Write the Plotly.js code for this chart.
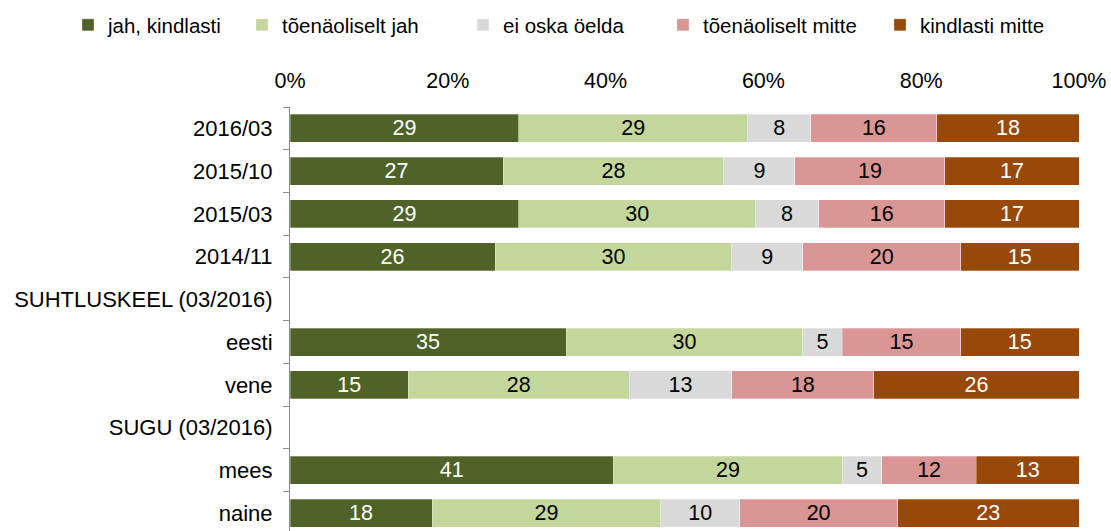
<!DOCTYPE html>
<html>
<head>
<meta charset="utf-8">
<script src="https://cdn.plot.ly/plotly-3.0.1.min.js"></script>
<style>html,body{margin:0;padding:0;background:#fff;}#chart{width:1111px;height:531px;}</style>
</head>
<body>
<div id="chart"></div>
<script>
var categories = ["2016/03","2015/10","2015/03","2014/11","SUHTLUSKEEL (03/2016)","eesti","vene","SUGU (03/2016)","mees","naine"];
var seriesNames = ["jah, kindlasti","tõenäoliselt jah","ei oska öelda","tõenäoliselt mitte","kindlasti mitte"];
var jahKindlasti      = [29,27,29,26,null,35,15,null,41,18];
var toenaoliseltJah   = [29,28,30,30,null,30,28,null,29,29];
var eiOskaOelda       = [8,9,8,9,null,5,13,null,5,10];
var toenaoliseltMitte = [16,19,16,20,null,15,18,null,12,20];
var kindlastiMitte    = [18,17,17,15,null,15,26,null,13,23];
var xTickVals = [0,20,40,60,80,100];
var xTickText = ["0%","20%","40%","60%","80%","100%"];

var seriesValues = [jahKindlasti,toenaoliseltJah,eiOskaOelda,toenaoliseltMitte,kindlastiMitte];
var colors = ["#4F6228","#C3D69B","#D9D9D9","#D99694","#984807"];
var textColors = ["#ffffff","#000000","#000000","#000000","#ffffff"];
var legendIds = ["legend","legend2","legend3","legend4","legend5"];
var legendX = [68,242,463,663,880];

var font = "Liberation Sans, Arial, sans-serif";
var traces = seriesValues.map(function(vals,i){
  return {
    type:"bar", orientation:"h", name:seriesNames[i],
    y:categories, x:vals,
    text:vals.map(function(v){return v===null?"":String(v);}),
    texttemplate:"%{text}", textposition:"inside", insidetextanchor:"middle",
    textangle:0, constraintext:"none",
    marker:{color:colors[i], line:{color:"rgba(255,255,255,0.6)", width:0.5}},
    textfont:{family:font, size:21.5, color:textColors[i]},
    hoverinfo:"skip", legend:legendIds[i]
  };
});

var plotW = 1111-290-32, plotH = 531-107;
var layout = {
  width:1111, height:531,
  margin:{l:290, r:32, t:107, b:0, pad:0},
  barmode:"stack", bargap:0.345,
  paper_bgcolor:"#fff", plot_bgcolor:"#fff",
  font:{family:font, size:21, color:"#000"},
  xaxis:{side:"top", range:[0,100], tickmode:"array", tickvals:xTickVals, ticktext:xTickText,
         showgrid:false, zeroline:false, showline:false, ticks:"",
         ticklabelstandoff:14, tickfont:{family:font, size:21.5, color:"#000"}, fixedrange:true},
  yaxis:{type:"category", range:[9.42,-0.5], showgrid:false, zeroline:false,
         showline:true, linecolor:"#8c8c8c", linewidth:1,
         ticks:"outside", tickson:"boundaries", ticklen:6, tickcolor:"#8c8c8c", tickwidth:1,
         ticklabelstandoff:12, tickfont:{family:font, size:22, color:"#000"}, fixedrange:true},
  showlegend:true
};
legendIds.forEach(function(id,i){
  layout[id] = {orientation:"h", x:(legendX[i]-290)/plotW, xanchor:"left",
    y:1+(107-25)/plotH, yanchor:"middle", bgcolor:"rgba(0,0,0,0)",
    font:{family:font, size:20.5, color:"#000"}, itemwidth:30, tracegroupgap:0};
});

Plotly.newPlot("chart", traces, layout, {displayModeBar:false, staticPlot:true});
</script>
</body>
</html>
